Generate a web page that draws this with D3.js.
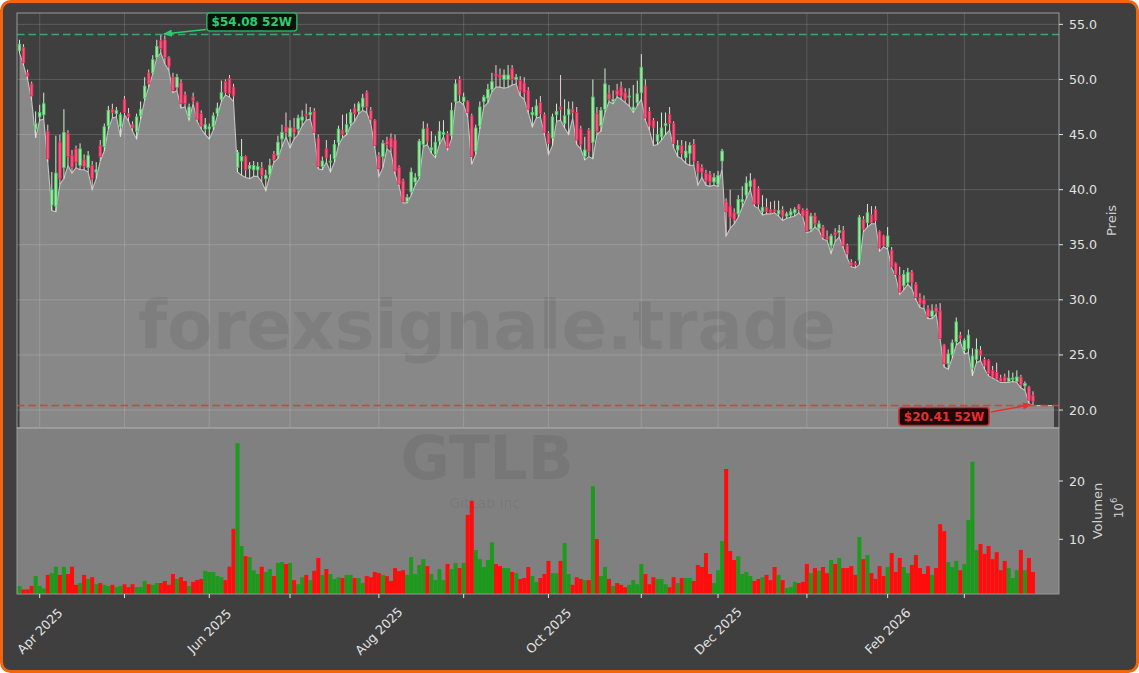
<!DOCTYPE html>
<html><head><meta charset="utf-8">
<script src="https://cdn.jsdelivr.net/npm/d3@7"></script>
<style>html,body{margin:0;padding:0;background:#ffffff;}svg{display:block;font-family:"DejaVu Sans",sans-serif;}</style>
</head><body><svg id="c" width="1139" height="673"></svg>
<script>
// ---------- DATA ----------
const ticker = "GTLB";
const companyName = "GitLab Inc.";
const watermark = "forexsignale.trade";
const firstDate = "2025-03-25";
const lastDate = "2026-03-25";
const holidays = ["2025-04-18","2025-05-26","2025-06-19","2025-07-04","2025-09-01","2025-11-27","2025-12-25","2026-01-01","2026-01-19","2026-02-16"];
const priceTicks = [20,25,30,35,40,45,50,55];
const volumeTicks = [10,20];

const open = [52.6,52.9,50.6,49.6,45.5,46.6,46.8,45.3,38.6,38.5,
44.3,42.0,45.1,43.1,43.7,42.2,42.7,42.0,42.2,41.6,
44.0,43.9,45.8,47.3,46.9,45.7,48.2,46.9,45.9,45.3,
46.7,48.3,50.6,50.6,52.0,53.5,53.6,52.0,50.2,49.3,
49.7,48.6,46.6,48.4,47.9,46.9,45.5,45.5,45.7,46.9,
48.2,49.8,50.1,49.3,42.0,42.6,43.0,41.9,41.8,41.8,
42.0,41.0,41.4,43.2,43.1,44.6,45.7,44.8,45.6,45.5,
46.3,46.8,46.8,47.1,44.7,42.1,43.7,42.5,42.8,44.3,
45.4,45.2,46.0,47.4,47.1,47.5,48.8,47.2,46.3,43.1,
43.0,44.4,44.7,44.5,42.0,40.8,38.9,39.8,40.7,41.2,
44.1,45.6,43.6,43.2,44.4,45.0,45.1,44.9,48.0,50.0,
48.0,48.0,46.7,43.5,45.8,48.0,48.3,49.1,50.5,50.4,
50.0,50.0,51.0,50.0,49.9,49.7,49.0,46.8,46.7,47.9,
46.8,45.1,44.7,46.8,47.5,46.0,46.8,47.3,47.0,45.5,
43.0,45.4,44.3,46.9,45.8,47.3,48.7,48.0,49.0,49.3,
48.8,48.4,47.2,47.9,48.8,49.4,47.1,46.3,44.4,44.8,
45.8,46.8,46.0,43.6,44.0,42.9,43.3,44.1,42.4,42.0,
41.5,41.4,40.7,40.5,42.6,38.9,38.5,37.9,37.8,38.9,
39.5,40.3,40.9,40.1,38.0,38.4,38.2,38.2,37.8,38.2,
37.6,37.7,37.9,38.6,38.1,38.1,36.4,37.6,36.5,36.6,
35.7,34.9,36.1,36.1,36.3,34.9,33.4,33.3,33.6,37.3,
37.0,37.7,38.2,36.2,35.8,34.8,34.5,33.3,32.2,31.3,
31.6,32.5,31.4,30.2,30.0,29.2,28.5,29.3,29.0,25.9,
24.2,25.0,26.2,26.8,25.4,25.6,23.8,24.6,25.4,24.6,
24.5,23.6,23.4,22.9,23.0,22.6,22.8,22.6,23.0,22.2,
22.1,21.3];

const high = [53.6,53.2,50.9,49.8,47.1,47.7,48.8,45.9,41.6,44.9,
45.0,47.3,45.4,43.6,44.0,44.2,43.2,43.5,42.6,42.5,
44.5,46.0,47.6,47.8,47.5,47.0,48.5,47.4,46.2,46.9,
48.0,50.2,50.9,52.2,53.6,54.08,54.0,52.1,50.6,50.5,
50.0,48.9,47.8,48.8,48.0,47.2,46.5,46.0,47.0,47.9,
49.9,50.0,50.4,49.6,43.6,44.6,43.1,42.5,42.6,42.5,
42.5,41.8,42.8,43.5,44.9,45.9,47.0,46.3,46.5,46.8,
47.2,47.8,47.5,47.4,45.0,43.0,44.5,43.2,44.5,45.8,
46.8,46.9,47.3,47.8,48.0,48.7,49.0,47.5,46.4,43.4,
44.5,44.8,45.1,45.0,42.2,41.0,39.6,42.0,41.5,44.6,
46.2,46.0,45.3,44.9,46.2,46.3,45.3,47.9,50.0,50.3,
48.8,48.1,46.9,45.9,48.0,48.6,49.6,50.6,51.3,51.0,
50.9,51.3,51.3,50.5,50.3,50.2,49.3,47.5,48.2,48.5,
47.0,45.3,46.9,47.8,50.4,48.2,48.0,48.0,47.5,45.8,
44.8,45.6,50.0,47.5,47.5,51.0,49.5,49.0,49.6,49.8,
49.2,49.2,49.5,49.9,52.3,50.0,47.5,46.5,46.2,47.0,
47.0,47.5,46.2,44.5,44.5,44.4,44.3,44.6,42.6,42.3,
41.8,41.7,41.5,41.7,43.7,39.2,40.0,38.3,39.5,40.3,
41.2,41.5,41.0,40.3,39.5,39.2,38.9,39.0,39.0,38.5,
38.0,38.3,38.4,38.7,38.3,38.3,37.9,37.9,37.2,36.8,
36.3,36.0,36.5,36.8,36.7,35.1,33.7,33.5,37.7,37.6,
38.7,38.5,38.5,36.3,35.9,36.6,34.8,33.4,33.0,32.7,
32.9,32.7,31.6,30.6,30.4,29.5,29.6,29.6,29.7,26.0,
25.5,26.4,28.4,27.1,26.5,27.3,25.6,26.5,25.8,24.8,
24.6,24.0,24.3,23.2,23.3,23.6,23.4,23.6,23.2,22.6,
22.2,21.7];

const low = [52.4,51.3,50.0,48.1,44.7,46.3,46.4,42.5,38.1,38.0,
40.5,41.0,42.2,41.5,42.0,41.8,41.8,41.6,40.0,41.0,
42.6,43.5,45.5,46.5,46.6,44.8,46.8,46.2,45.3,44.6,
46.4,48.1,49.3,50.5,52.0,52.4,51.4,50.8,48.8,49.0,
47.4,47.5,46.3,47.8,46.2,45.5,45.0,44.6,45.4,46.7,
48.0,48.6,48.4,48.0,41.6,41.3,41.1,41.0,41.2,41.2,
40.7,39.9,41.3,42.5,42.8,43.9,44.8,43.8,44.6,45.0,
45.8,46.3,46.4,45.0,41.9,41.8,42.5,41.6,42.5,44.0,
44.7,45.0,45.8,46.2,46.9,47.2,47.0,46.0,43.8,41.2,
42.0,43.7,43.4,41.4,40.3,38.8,38.8,39.5,40.4,41.0,
43.9,44.1,43.3,42.9,44.1,44.8,43.6,44.6,47.9,48.0,
47.7,46.6,42.3,43.2,45.5,47.5,47.9,48.9,49.3,49.3,
49.2,49.3,49.5,49.6,48.5,48.2,47.0,45.7,46.5,46.6,
45.0,43.2,44.0,46.2,46.3,45.6,45.0,46.5,44.1,43.7,
42.7,43.0,42.8,45.0,45.3,47.0,48.0,47.8,48.4,48.2,
47.9,47.6,47.0,47.6,48.2,46.3,45.4,44.0,44.1,44.5,
45.0,45.4,43.8,43.0,42.8,42.4,42.2,42.2,40.4,41.1,
40.4,40.3,40.4,40.3,41.9,35.8,36.5,36.9,37.5,38.4,
39.2,40.0,38.5,38.3,37.7,37.8,37.8,37.9,37.6,37.2,
37.4,37.5,37.6,37.9,37.5,36.1,36.2,36.6,36.3,35.5,
35.4,34.2,35.3,35.7,34.7,33.8,33.0,32.9,33.2,36.2,
36.6,36.9,36.9,34.4,34.8,34.6,32.9,32.1,30.5,30.9,
31.4,31.0,30.0,29.3,29.2,28.3,28.3,28.7,26.4,23.9,
23.7,24.7,25.9,26.2,25.1,25.2,23.1,24.3,24.5,23.7,
23.1,22.9,22.7,22.5,22.5,22.5,22.6,22.5,22.0,21.8,
20.6,20.41];

const close = [53.2,51.5,50.3,48.5,46.0,47.0,47.8,42.8,40.0,41.5,
41.0,45.2,43.0,42.0,42.5,43.7,42.1,43.1,41.0,41.8,
43.0,45.7,47.2,47.0,47.2,46.8,47.0,46.6,45.6,46.6,
47.3,49.4,49.6,51.8,53.0,52.8,52.0,51.2,49.0,50.2,
47.8,47.8,47.5,48.1,46.4,45.8,45.9,45.7,46.7,47.4,
48.8,48.8,48.7,48.5,43.4,43.0,41.8,42.2,42.2,42.1,
41.3,41.3,42.2,42.7,44.3,45.2,45.2,45.6,45.2,46.5,
46.6,46.7,47.0,45.2,42.1,42.6,42.9,42.6,44.1,45.5,
45.0,45.9,47.0,46.9,47.8,48.3,47.5,46.4,44.0,41.9,
44.2,44.1,43.8,41.7,40.5,38.9,39.3,41.6,41.1,44.4,
45.5,44.4,43.8,44.3,45.3,45.2,43.8,47.2,49.6,48.6,
48.4,47.0,43.0,45.6,47.5,48.4,49.1,49.8,50.3,50.2,
50.4,50.4,50.0,50.2,49.0,48.8,47.3,47.0,47.6,46.9,
45.2,44.2,46.6,47.1,47.3,46.7,47.3,47.0,44.5,44.1,
43.6,43.5,48.4,45.3,47.2,49.6,48.2,48.2,48.6,48.5,
48.2,48.5,47.5,48.7,51.1,46.5,45.8,45.6,45.0,45.6,
46.0,46.0,44.2,44.0,43.3,43.5,44.0,42.6,41.6,41.6,
40.8,40.7,41.1,41.3,43.5,38.0,37.5,37.3,39.1,39.1,
40.6,40.8,38.7,38.7,38.4,38.0,37.9,38.0,38.1,37.6,
37.8,38.0,38.2,38.2,37.6,36.2,37.6,36.9,36.9,35.7,
35.5,35.8,35.9,36.3,34.9,34.2,33.1,33.2,37.5,36.4,
37.9,37.0,37.2,34.7,34.9,35.8,33.0,32.3,30.7,32.3,
32.5,31.6,30.2,29.7,29.6,28.5,29.0,28.9,26.5,24.2,
25.1,26.1,28.0,26.5,26.3,26.8,24.9,25.5,25.0,24.0,
23.3,23.0,22.8,22.6,22.6,22.9,22.9,23.0,22.3,22.4,
20.9,20.8];

// volume in millions of shares
const volume = [2.0,1.4,1.4,2.0,3.7,2.0,1.6,3.9,4.2,5.3,
3.9,5.3,4.05,5.3,2.2,2.5,3.9,3.2,3.5,2.3,
2.5,2.2,2.0,2.2,1.8,2.0,2.3,1.8,2.3,1.8,
1.8,2.85,2.3,2.2,2.5,2.5,2.85,2.2,4.05,3.2,
3.5,2.85,2.0,2.7,3.0,3.2,4.6,4.4,4.4,3.7,
3.5,3.0,5.3,11.8,26.5,8.85,7.1,6.96,4.7,4.05,
5.3,4.4,4.9,3.7,5.95,6.1,5.76,5.95,3.0,2.3,
3.5,3.9,3.0,4.6,6.8,3.9,4.9,4.05,3.2,3.5,
3.36,3.9,3.9,3.36,3.36,2.5,3.7,3.5,4.4,4.2,
3.9,3.7,2.85,5.07,4.56,4.7,3.9,6.96,4.05,5.6,
6.6,5.4,4.05,3.0,4.9,3.0,5.76,4.9,5.95,5.07,
5.95,14.2,16.6,8.16,6.6,5.25,6.45,9.5,5.76,5.4,
5.07,5.07,4.4,4.2,3.2,3.36,5.25,3.7,2.7,3.36,
4.05,6.3,4.2,4.2,6.3,9.36,4.05,2.2,3.5,3.2,
3.0,3.0,19.1,10.05,3.7,5.25,3.2,2.0,2.5,2.2,
1.8,2.2,3.0,2.3,5.76,4.05,2.3,3.5,3.2,3.2,
2.3,1.8,3.5,2.5,3.36,3.36,3.36,2.85,5.6,5.25,
7.65,4.05,2.5,4.7,9.7,22.06,7.99,6.45,7.1,4.05,
4.4,3.7,2.85,3.2,3.5,3.9,3.0,5.25,3.9,3.0,
1.65,1.8,2.7,2.5,2.7,5.76,4.2,5.07,4.6,5.25,
4.2,6.45,5.76,6.8,5.07,5.07,5.4,3.9,10.4,6.6,
7.3,4.2,3.2,5.4,3.7,5.25,7.65,4.4,6.8,5.25,
4.2,5.6,7.3,5.07,4.05,5.4,3.9,5.07,12.6,11.4,
6.1,5.25,6.3,4.7,5.76,13.3,23.3,8.16,9.19,7.5,
8.85,6.6,7.8,4.7,6.3,5.07,3.36,4.7,8.16,4.7,
6.8,4.4];

// ---------- TRADING CALENDAR ----------
const parse = d3.timeParse("%Y-%m-%d"), fmtKey = d3.timeFormat("%Y-%m-%d");
const dates = [];
for (let d = parse(firstDate); d <= parse(lastDate); d = d3.timeDay.offset(d, 1)) {
  const wd = d.getDay();
  if (wd === 0 || wd === 6 || holidays.includes(fmtKey(d))) continue;
  dates.push(d);
}
const n = close.length;

// ---------- LAYOUT ----------
const W = 1139, H = 673;
const L = 17, R = 1059, PT = 13, PB = 428, VT = 428, VB = 594;
const svg = d3.select("#c");

svg.append("rect").attr("x",1.5).attr("y",1.5).attr("width",W-3).attr("height",H-3)
  .attr("rx",9).attr("fill","#3f3f3f").attr("stroke","#f2650c").attr("stroke-width",3);

const x = d3.scaleLinear().domain([-0.62, 257.44]).range([L, R]);
const y = d3.scaleLinear().domain([18.37, 56.03]).range([PB, PT]);
const yv = d3.scaleLinear().domain([0.62, 29.09]).range([VB, VT]);
const step = x(1) - x(0);

const defs = svg.append("defs");
defs.append("clipPath").attr("id","cp").append("rect").attr("x",L).attr("y",PT).attr("width",R-L).attr("height",PB-PT);
defs.append("clipPath").attr("id","cv").append("rect").attr("x",L).attr("y",VT).attr("width",R-L).attr("height",VB-VT);
function marker(id, color){
  defs.append("marker").attr("id",id).attr("viewBox","0 0 10 10").attr("refX",9).attr("refY",5)
    .attr("markerWidth",9).attr("markerHeight",9).attr("markerUnits","userSpaceOnUse").attr("orient","auto")
    .append("path").attr("d","M0,1 L10,5 L0,9 Z").attr("fill",color);
}
marker("ag","#2ecc71"); marker("ar","#e53030");

// month ticks (first trading day of each month)
const monthTicks = [];
dates.forEach((d,i)=>{ if (i>0 && d.getMonth() !== dates[i-1].getMonth()) monthTicks.push({i, d}); });
const fmtMonth = d3.timeFormat("%b %Y");

// ---------- PRICE PANEL ----------
const gp = svg.append("g").attr("clip-path","url(#cp)");
const fillPts = low.map((v,i)=>({i, v}));
fillPts.push({i: n - 1 + 5.2, v: low[n-1]});
gp.append("path").datum(fillPts)
  .attr("d", d3.area().x(d=>x(d.i)).y0(PB).y1(d=>y(d.v)))
  .attr("fill","#888888");
gp.append("path").datum(fillPts)
  .attr("d", d3.line().x(d=>x(d.i)).y(d=>y(d.v)))
  .attr("fill","none").attr("stroke","#c2c2c2").attr("stroke-width",1.1);

// watermark
gp.append("text").attr("x",487).attr("y",349).attr("text-anchor","middle")
  .attr("font-size",67).attr("font-weight","bold").attr("fill","rgba(0,0,0,0.065)").text(watermark);

// grid
priceTicks.forEach(t=>{
  gp.append("line").attr("x1",L).attr("x2",R).attr("y1",y(t)).attr("y2",y(t))
    .attr("stroke","rgba(255,255,255,0.15)").attr("stroke-width",1);
});
monthTicks.forEach(m=>{
  gp.append("line").attr("x1",x(m.i)).attr("x2",x(m.i)).attr("y1",PT).attr("y2",PB)
    .attr("stroke","rgba(255,255,255,0.15)").attr("stroke-width",1);
});

// candles
const gc = gp.append("g");
for (let i=0;i<n;i++){
  const up = close[i] >= open[i];
  gc.append("line").attr("x1",x(i)).attr("x2",x(i)).attr("y1",y(high[i])).attr("y2",y(low[i]))
    .attr("stroke", up ? "#d2eed2" : "#f3cad3").attr("stroke-width",1);
  const top = y(Math.max(open[i],close[i])), bot = y(Math.min(open[i],close[i]));
  gc.append("rect").attr("x",x(i)-1.3).attr("width",2.6).attr("y",top).attr("height",Math.max(0.8,bot-top))
    .attr("fill", up ? "#a8e2a8" : "#f55a7c").attr("stroke", up ? "#44cc62" : "#e4285a").attr("stroke-width",0.8);
}

// 52W lines
const hiIdx = d3.maxIndex(high), loIdx = d3.minIndex(low);
const hi = high[hiIdx], lo = low[loIdx];
gp.append("line").attr("x1",L).attr("x2",R).attr("y1",y(hi)).attr("y2",y(hi))
  .attr("stroke","#3cb371").attr("stroke-width",1.5).attr("stroke-dasharray","7.5,4").attr("opacity",0.9);
gp.append("line").attr("x1",L).attr("x2",R).attr("y1",y(lo)).attr("y2",y(lo))
  .attr("stroke","#e03a3a").attr("stroke-width",1.5).attr("stroke-dasharray","7.5,4").attr("opacity",0.95);

// price frame
svg.append("rect").attr("x",L).attr("y",PT).attr("width",R-L).attr("height",PB-PT)
  .attr("fill","none").attr("stroke","#9a9a9a").attr("stroke-width",1);

// ---------- VOLUME PANEL ----------
svg.append("rect").attr("x",L).attr("y",VT).attr("width",R-L).attr("height",VB-VT).attr("fill","#808080");
const gv = svg.append("g").attr("clip-path","url(#cv)");
gv.append("text").attr("x",487).attr("y",479).attr("text-anchor","middle")
  .attr("font-size",60).attr("font-weight","bold").attr("fill","rgba(0,0,0,0.07)").text(ticker);
gv.append("text").attr("x",487).attr("y",508).attr("text-anchor","middle")
  .attr("font-size",14).attr("fill","rgba(0,0,0,0.07)").text(companyName);
for (let i=0;i<n;i++){
  const up = close[i] >= open[i];
  gv.append("rect").attr("x",x(i)-step/2).attr("width",step).attr("y",yv(volume[i])).attr("height",VB-yv(volume[i]))
    .attr("fill", up ? "#1d9a1d" : "#ff0d0d");
}
svg.append("rect").attr("x",L).attr("y",VT).attr("width",R-L).attr("height",VB-VT)
  .attr("fill","none").attr("stroke","#9a9a9a").attr("stroke-width",1);
svg.append("line").attr("x1",L).attr("x2",R).attr("y1",PB).attr("y2",PB).attr("stroke","#a8a8a8").attr("stroke-width",1.2);

// ---------- AXES ----------
const tc = "#e2e2e2";
priceTicks.forEach(t=>{
  svg.append("line").attr("x1",R).attr("x2",R+4).attr("y1",y(t)).attr("y2",y(t)).attr("stroke",tc);
  svg.append("text").attr("x",R+10).attr("y",y(t)).attr("dominant-baseline","central")
    .attr("font-size",12.6).attr("fill",tc).text(d3.format(".1f")(t));
});
volumeTicks.forEach(t=>{
  svg.append("line").attr("x1",R).attr("x2",R+4).attr("y1",yv(t)).attr("y2",yv(t)).attr("stroke",tc);
  svg.append("text").attr("x",R+10).attr("y",yv(t)).attr("dominant-baseline","central")
    .attr("font-size",12.6).attr("fill",tc).text(t);
});
svg.append("text").attr("transform",`translate(1111,${(PT+PB)/2}) rotate(-90)`).attr("text-anchor","middle")
  .attr("dominant-baseline","central").attr("font-size",13).attr("fill","#cfcfcf").text("Preis");
svg.append("text").attr("transform",`translate(1097,${(VT+VB)/2}) rotate(-90)`).attr("text-anchor","middle")
  .attr("dominant-baseline","central").attr("font-size",13).attr("fill","#cfcfcf").text("Volumen");
const e6 = svg.append("text").attr("transform",`translate(1119,508) rotate(-90)`).attr("text-anchor","middle")
  .attr("dominant-baseline","central").attr("font-size",12).attr("fill","#cfcfcf");
e6.append("tspan").text("10");
e6.append("tspan").attr("font-size",8.5).attr("dy",-5).text("6");

monthTicks.forEach((m,k)=>{
  svg.append("line").attr("x1",x(m.i)).attr("x2",x(m.i)).attr("y1",VB).attr("y2",VB+4).attr("stroke",tc);
  if (k % 2 === 0) {
    svg.append("text").attr("transform",`translate(${x(m.i)},631) rotate(-45)`).attr("text-anchor","middle")
      .attr("dominant-baseline","central").attr("font-size",12.6).attr("fill",tc).text(fmtMonth(m.d));
  }
});

// ---------- ANNOTATIONS ----------
function annot(label, cx, cy, tipX, tipY, fromX, fromY, color, bg, border, mk){
  svg.append("line").attr("x1",fromX).attr("y1",fromY).attr("x2",tipX).attr("y2",tipY)
    .attr("stroke",color).attr("stroke-width",1.6).attr("marker-end",`url(#${mk})`);
  svg.append("rect").attr("x",cx-45).attr("y",cy-9).attr("width",90).attr("height",18).attr("rx",3)
    .attr("fill",bg).attr("stroke",border).attr("stroke-width",1.5);
  svg.append("text").attr("x",cx).attr("y",cy).attr("text-anchor","middle").attr("dominant-baseline","central")
    .attr("font-size",12).attr("font-weight","bold").attr("fill",color).text(label);
}
const hx = x(hiIdx), hy = y(hi), lx = x(loIdx), ly = y(lo);
annot(`$${hi.toFixed(2)} 52W`, hx+91, hy-12.4, hx+3, hy-0.5, hx+45, hy-5, "#2ecc71", "#06130b", "#27ae60", "ag");
annot(`$${lo.toFixed(2)} 52W`, lx-89, ly+11, lx-2, ly-1, lx-42, ly+6.5, "#e53030", "#1c0808", "#d02a2a", "ar");
</script></body></html>
